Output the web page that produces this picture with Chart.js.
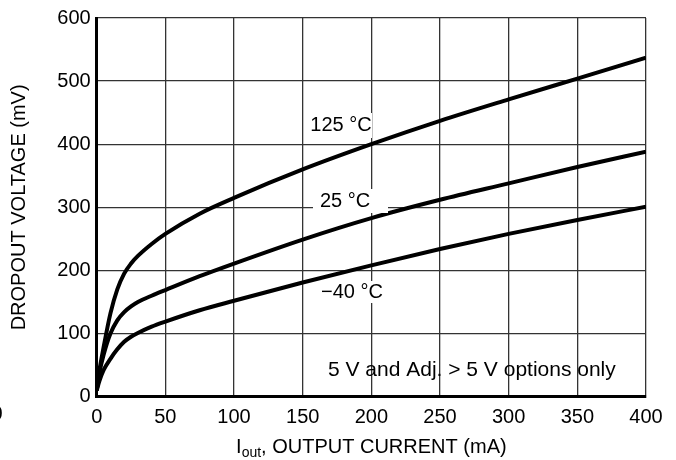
<!DOCTYPE html>
<html>
<head>
<meta charset="utf-8">
<script src="https://cdn.jsdelivr.net/npm/chart.js@4/dist/chart.umd.min.js"></script>
<style>
  html, body { margin: 0; padding: 0; background: #fff; }
  #wrap { width: 676px; height: 460px; }
</style>
</head>
<body>
<div id="wrap"><canvas id="chart-dropout"></canvas></div>
<script>
  const currents = [0, 2, 5, 10, 15, 20, 25, 30, 40, 50, 75, 100, 150, 200, 250, 300, 350, 400];
  const drop125 = [10, 42, 78, 132, 170, 195, 211, 223, 242, 258, 290, 315, 360, 400, 437, 471, 504, 537];
  const drop25 = [10, 38, 66, 100, 121, 134, 143, 150, 160, 169, 191, 211, 249, 283, 312, 338, 364, 388];
  const dropM40 = [10, 25, 42, 60, 75, 87, 95, 101, 111, 119, 137, 152, 181, 208, 234, 258, 280, 301];
  const xTicks = [0, 50, 100, 150, 200, 250, 300, 350, 400];
  const yTicks = [0, 100, 200, 300, 400, 500, 600];

  const font = "'Liberation Sans', Arial, Helvetica, sans-serif";
  const ink = "#000";
  const gridColor = "#333";

  // curve labels sit on white boxes that cut the grid
  const curveLabels = [
    { text: "125 \u00B0C", x: 341, y: 125, box: [304, 113, 372, 138] },
    { text: "25 \u00B0C", x: 345, y: 201, box: [313, 189, 388, 213] },
    { text: "\u221240 \u00B0C", x: 352, y: 292, box: [319, 281, 386, 303] },
  ];

  const pairs = (ys) => currents.map((x, i) => ({ x, y: ys[i] }));

  const annotate = {
    id: "annotate",
    afterDatasetsDraw(chart) {
      const { ctx } = chart;
      ctx.save();
      ctx.font = "20px " + font;
      ctx.textBaseline = "middle";
      ctx.textAlign = "center";
      curveLabels.forEach((l) => {
        const [x0, y0, x1, y1] = l.box;
        ctx.fillStyle = "#fff";
        ctx.fillRect(x0, y0, x1 - x0, y1 - y0);
        ctx.fillStyle = ink;
        ctx.fillText(l.text, l.x, l.y);
      });
      ctx.font = "21px " + font;
      ctx.textAlign = "left";
      ctx.fillText("5 V and Adj. > 5 V options only", 328, 370);
      ctx.restore();
    },
    afterDraw(chart) {
      const { ctx, chartArea } = chart;
      ctx.save();
      ctx.fillStyle = ink;
      ctx.textBaseline = "alphabetic";
      // x title with subscript
      const main = "20px " + font;
      const sub = "14px " + font;
      ctx.font = main;
      const wI = ctx.measureText("I").width;
      const wRest = ctx.measureText(", OUTPUT CURRENT (mA)").width;
      ctx.font = sub;
      const wSub = ctx.measureText("out").width;
      const total = wI + wSub + wRest;
      let x = (chartArea.left + chartArea.right) / 2 - total / 2;
      ctx.font = main;
      ctx.textAlign = "left";
      ctx.fillText("I", x, 453);
      x += wI;
      ctx.font = sub;
      ctx.fillText("out", x, 457);
      x += wSub;
      ctx.font = main;
      ctx.fillText(", OUTPUT CURRENT (mA)", x, 453);
      // clipped stray zero at the left edge
      ctx.textAlign = "center";
      ctx.textBaseline = "middle";
      ctx.fillText("0", -3, 414);
      ctx.restore();
    },
  };

  const line = (label, ys) => ({
    label,
    data: pairs(ys),
    borderColor: ink,
    borderWidth: 4,
    pointRadius: 0,
    fill: false,
    cubicInterpolationMode: "monotone",
  });

  new Chart(document.getElementById("chart-dropout"), {
    type: "line",
    data: {
      datasets: [line("125 \u00B0C", drop125), line("25 \u00B0C", drop25), line("\u221240 \u00B0C", dropM40)],
    },
    options: {
      responsive: true,
      maintainAspectRatio: false,
      animation: false,
      layout: { padding: { top: 12.7, right: 30, bottom: 0, left: 0 } },
      plugins: { legend: { display: false }, tooltip: { enabled: false } },
      scales: {
        x: {
          type: "linear",
          min: 0,
          max: 400,
          afterBuildTicks(scale) { scale.ticks = xTicks.map((v) => ({ value: v })); },
          afterFit(scale) { scale.height = 63.3; },
          grid: { color: gridColor, lineWidth: 1.3, drawTicks: false },
          border: { display: true, color: ink, width: 3 },
          ticks: { color: ink, padding: 9, maxRotation: 0, font: { family: font, size: 20 } },
        },
        y: {
          type: "linear",
          min: 0,
          max: 600,
          afterBuildTicks(scale) { scale.ticks = yTicks.map((v) => ({ value: v })); },
          afterFit(scale) { scale.width = 96.7; },
          grid: { color: gridColor, lineWidth: 1.3, drawTicks: false },
          border: { display: true, color: ink, width: 3 },
          ticks: { color: ink, padding: 6, font: { family: font, size: 20 } },
          title: {
            display: true,
            text: "DROPOUT VOLTAGE (mV)",
            color: ink,
            padding: { top: 7, bottom: 0 },
            font: { family: font, size: 20 },
          },
        },
      },
    },
    plugins: [annotate],
  });
</script>
</body>
</html>
